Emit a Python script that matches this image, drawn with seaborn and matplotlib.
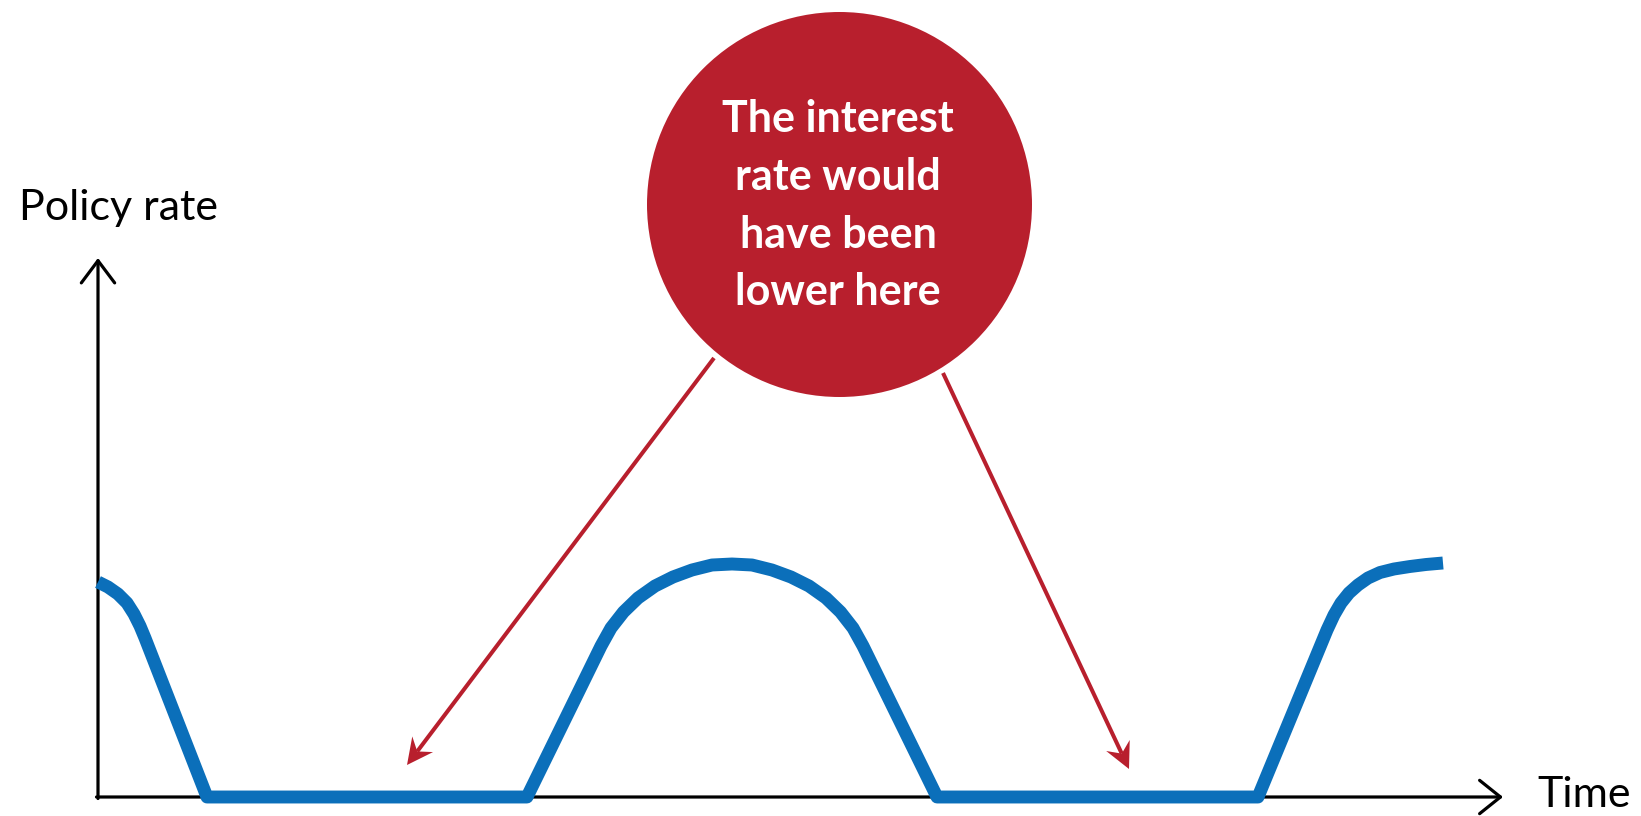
import matplotlib
matplotlib.use("Agg")
import matplotlib.pyplot as plt
from matplotlib.patches import Circle, Polygon
import numpy as np
import seaborn as sns
import pandas as pd

# Stylised policy-rate path: time (arbitrary units) and rate level
time = [0.00, 0.10, 0.20, 0.29, 0.36, 0.42, 0.47, 1.09,
        4.29, 5.03, 5.13, 5.255, 5.40, 5.57, 5.75, 5.94, 6.14, 6.34,
        6.54, 6.74, 6.93, 7.11, 7.28, 7.425, 7.55, 7.65, 8.39,
        11.60, 12.29, 12.36, 12.43, 12.51, 12.60, 12.70, 12.82, 12.96,
        13.12, 13.28, 13.45]
rate = [2.15, 2.10, 2.03, 1.94, 1.83, 1.71, 1.59, 0.00,
        0.00, 1.51, 1.69, 1.85, 1.99, 2.11, 2.20, 2.27, 2.32, 2.33,
        2.32, 2.27, 2.20, 2.11, 1.99, 1.85, 1.69, 1.51, 0.00,
        0.00, 1.67, 1.82, 1.94, 2.04, 2.12, 2.19, 2.245, 2.28,
        2.305, 2.325, 2.34]

y_label = "Policy rate"
x_label = "Time"
callout_lines = ["The interest", "rate would", "have been", "lower here"]

BLUE = "#0b6fba"
RED = "#b81f2d"

sns.set_theme(style="white")
plt.rcParams["font.family"] = ["Lato", "DejaVu Sans"]

fig = plt.figure(figsize=(16.41, 8.16), dpi=100)
ax = fig.add_axes([0, 0, 1, 1])
ax.set_xlim(-0.98, 15.43)
ax.set_ylim(-0.19, 7.97)
ax.axis("off")

# Axes drawn as open-headed arrows
ax.annotate("", xy=(0, 5.39), xytext=(0, -0.015),
            arrowprops=dict(arrowstyle="->,head_length=0.8,head_width=0.6",
                            mutation_scale=20, lw=2.3, color="black",
                            shrinkA=0, shrinkB=0))
ax.annotate("", xy=(14.05, 0), xytext=(-0.015, 0),
            arrowprops=dict(arrowstyle="->,head_length=0.75,head_width=0.6",
                            mutation_scale=20, lw=2.3, color="black",
                            shrinkA=0, shrinkB=0))

df = pd.DataFrame({"time": time, "rate": rate})
sns.lineplot(data=df, x="time", y="rate", ax=ax, color=BLUE, lw=9.3,
             sort=False, estimator=None,
             solid_capstyle="butt", solid_joinstyle="round", zorder=3)
ax.set_xlabel("")
ax.set_ylabel("")

ax.text(-0.79, 5.77, y_label, fontsize=31, ha="left", va="baseline", color="black")
ax.text(14.39, -0.10, x_label, fontsize=31, ha="left", va="baseline", color="black")

# Callout bubble
ax.add_patch(Circle((7.415, 5.925), 1.925, color=RED, zorder=4, lw=0))
for line, yb in zip(callout_lines, [6.65, 6.07, 5.49, 4.92]):
    ax.text(7.40, yb, line, fontsize=31, fontweight="bold", color="white",
            ha="center", va="baseline", zorder=5)


def swept_arrow(start, end, head_len=0.26, head_half=0.13, notch=0.17):
    """Straight pointer with a swept-back (stealth) filled head."""
    start = np.asarray(start, float)
    end = np.asarray(end, float)
    d = end - start
    d /= np.hypot(*d)
    n = np.array([-d[1], d[0]])
    back = end - d * head_len
    notch_pt = end - d * notch
    ax.plot([start[0], notch_pt[0]], [start[1], notch_pt[1]], color=RED,
            lw=2.9, solid_capstyle="butt", zorder=4)
    ax.add_patch(Polygon([end, back + n * head_half, notch_pt, back - n * head_half],
                         closed=True, color=RED, lw=0, zorder=4))


swept_arrow((6.16, 4.39), (3.09, 0.32))
swept_arrow((8.45, 4.24), (10.31, 0.28))

fig.savefig("out.png", dpi=100)
